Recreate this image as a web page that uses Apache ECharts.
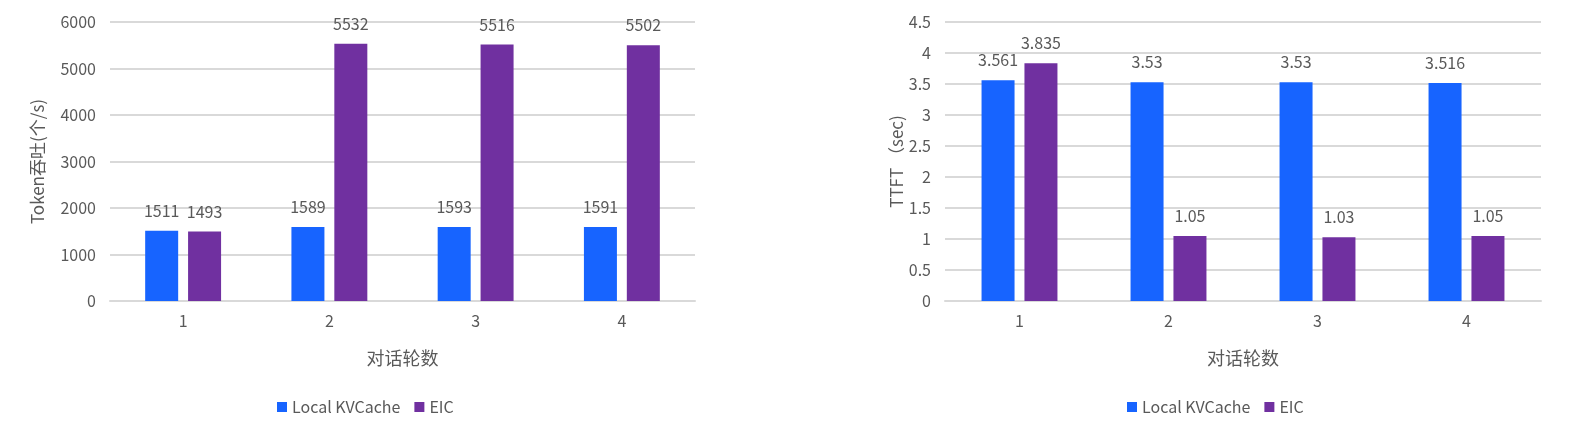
<!DOCTYPE html>
<html>
<head>
<meta charset="utf-8">
<script src="https://cdn.jsdelivr.net/npm/echarts@6/dist/echarts.min.js"></script>
<style>
  html, body { margin: 0; padding: 0; background: #fff; }
  #main { width: 1572px; height: 432px; }
</style>
</head>
<body>
<div id="main"></div>
<script>
// 对话轮数
var rounds = ['1', '2', '3', '4'];
var seriesNames = ['Local KVCache', 'EIC'];

// Token吞吐 (个/s)
var tputLocal = [1511, 1589, 1593, 1591];
var tputEic = [1493, 5532, 5516, 5502];

// TTFT (sec)
var ttftLocal = [3.561, 3.53, 3.53, 3.516];
var ttftEic = [3.835, 1.05, 1.03, 1.05];

var BLUE = '#1764ff';
var PURPLE = '#7030a0';
var TXT = '#595959';
var FONT = '"Noto Sans CJK SC", "Noto Sans", sans-serif';

function xAxisOf(idx) {
    return {
        type: 'category',
        gridIndex: idx,
        data: rounds,
        name: '对话轮数',
        nameLocation: 'middle',
        nameGap: 48,
        nameTextStyle: { color: TXT, fontSize: 18, fontFamily: FONT },
        axisLine: { lineStyle: { color: '#d9d9d9', width: 2 } },
        axisTick: { show: false },
        axisLabel: { color: TXT, fontSize: 16, margin: 12, fontFamily: FONT }
    };
}

function yAxisOf(idx, name, max, interval, gap) {
    return {
        type: 'value',
        gridIndex: idx,
        min: 0,
        max: max,
        interval: interval,
        name: name,
        nameLocation: 'middle',
        nameGap: gap,
        nameTextStyle: { color: TXT, fontSize: 17, fontFamily: FONT },
        axisLine: { show: false },
        axisTick: { show: false },
        axisLabel: {
            color: TXT, fontSize: 16, margin: 14, fontFamily: FONT,
            formatter: function (v) { return String(v); }
        },
        splitLine: { lineStyle: { color: '#d9d9d9', width: 2 } }
    };
}

function barOf(name, data, color, idx) {
    return {
        name: name,
        type: 'bar',
        xAxisIndex: idx,
        yAxisIndex: idx,
        data: data,
        barWidth: 33,
        barGap: '30%',
        itemStyle: { color: color },
        label: {
            show: true,
            position: 'top',
            distance: 12,
            color: TXT,
            fontSize: 16,
            fontFamily: FONT
        }
    };
}

var myChart = echarts.init(document.getElementById('main'));
var option = {
    backgroundColor: '#fff',
    animation: false,
    textStyle: { fontFamily: FONT },
    legend: [
        {
            data: seriesNames,
            left: 272,
            top: 394,
            itemWidth: 10,
            itemHeight: 10,
            itemGap: 14,
            icon: 'rect',
            textStyle: { color: TXT, fontSize: 16 }
        },
        {
            data: seriesNames,
            left: 1122,
            top: 394,
            itemWidth: 10,
            itemHeight: 10,
            itemGap: 14,
            icon: 'rect',
            textStyle: { color: TXT, fontSize: 16 }
        }
    ],
    grid: [
        { left: 110, top: 22, width: 585, height: 279 },
        { left: 945, top: 22, width: 596, height: 279 }
    ],
    xAxis: [xAxisOf(0), xAxisOf(1)],
    yAxis: [
        yAxisOf(0, 'Token吞吐(个/s)', 6000, 1000, 64),
        yAxisOf(1, 'TTFT （sec)', 4.5, 0.5, 40)
    ],
    series: [
        barOf('Local KVCache', tputLocal, BLUE, 0),
        barOf('EIC', tputEic, PURPLE, 0),
        barOf('Local KVCache', ttftLocal, BLUE, 1),
        barOf('EIC', ttftEic, PURPLE, 1)
    ]
};
myChart.setOption(option);
</script>
</body>
</html>
